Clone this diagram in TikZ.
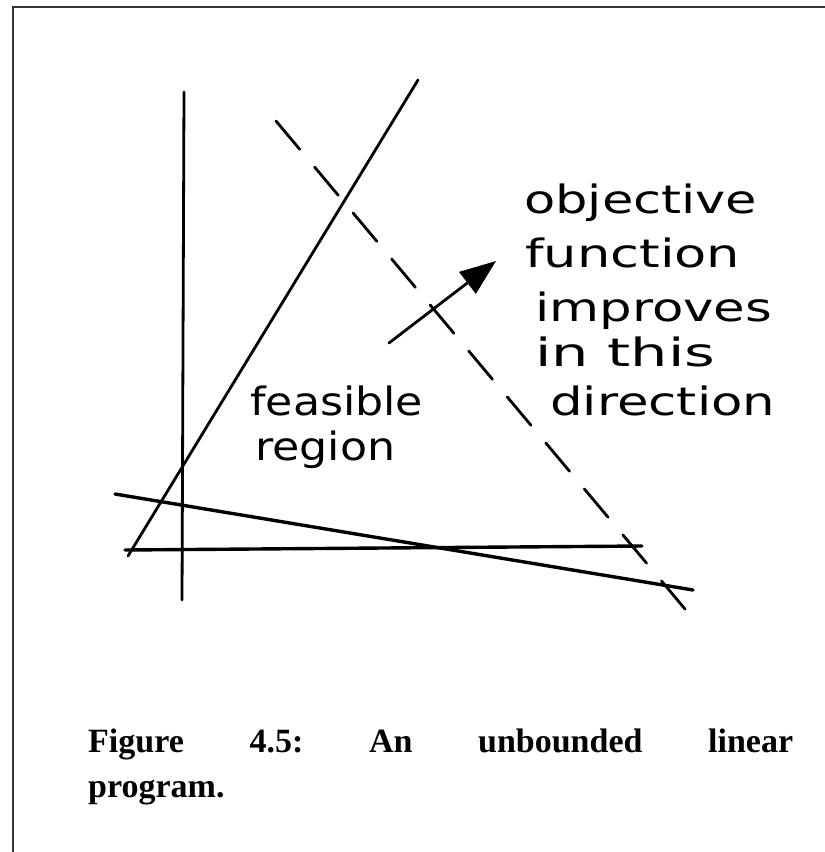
\documentclass[tikz,border=0pt]{standalone}
\usepackage{fontspec}
\usepackage{graphicx}
\usetikzlibrary{arrows.meta}
\newfontfamily\hwfont{DejaVu Sans}
\newfontfamily\capfont{Liberation Serif}
\newcommand{\hwline}[2]{\resizebox{#1pt}{\height}{#2}}
\frenchspacing
\tikzset{
  pen/.style={line width=2.8pt, line cap=round, black},
  thickpen/.style={line width=3.4pt, line cap=round, black},
  dashpen/.style={line width=2.8pt, line cap=round, black, dash pattern=on 37pt off 23pt},
  hw/.style={anchor=base west, inner sep=0pt, font=\hwfont\fontsize{39}{42}\selectfont},
  captext/.style={anchor=base west, inner sep=0pt, font=\capfont\bfseries\fontsize{34}{40}\selectfont},
  framepen/.style={line width=2.8pt, black!80},
}
\begin{document}
\begin{tikzpicture}[x=1pt,y=-1pt]
\useasboundingbox (0,0) rectangle (825,852);
\fill[white] (0,0) rectangle (825,852);
% frame
\coordinate (fTR) at (825,7);
\coordinate (fTL) at (13,7);
\coordinate (fBL) at (13,852);
\draw[framepen] (fTR) -- (fTL) -- (fBL);
% axis
\coordinate (vTop) at (184,92);
\coordinate (vBot) at (182,600);
\draw[pen] (vTop) -- (vBot);
% steep constraint
\coordinate (sTop) at (418,80);
\coordinate (sBot) at (128,556);
\draw[pen] (sTop) -- (sBot);
% horizontal constraint
\coordinate (hL) at (125,550);
\coordinate (hR) at (642,546);
\draw[thickpen] (hL) -- (hR);
% sloped constraint
\coordinate (lL) at (115,494);
\coordinate (lR) at (693,590);
\draw[thickpen] (lL) -- (lR);
% dashed objective line
\coordinate (dTop) at (276,121);
\coordinate (dBot) at (690,615);
\draw[dashpen] (dTop) -- (dBot);
% arrow
\coordinate (aS) at (389,343);
\coordinate (aE) at (496,261);
\draw[pen, -{Triangle[length=36pt,width=27pt]}] (aS) -- (aE);
% handwritten labels
\node[hw] (t1) at (524,213) {\hwline{233}{objective}};
\node[hw] (t2) at (525,267) {\hwline{215}{function}};
\node[hw] (t3) at (535,321) {\hwline{237}{improves}};
\node[hw] (t4) at (535,366) {\hwline{180}{in this}};
\node[hw] (t5) at (550,415) {\hwline{225}{direction}};
\node[hw] (f1) at (250,415) {\hwline{173}{feasible}};
\node[hw] (f2) at (255,460) {\hwline{140}{region}};
% caption
\node[captext] (c1) at (88,752) {\makebox[705pt][s]{Figure 4.5: An unbounded linear}};
\node[captext] (c2) at (88,797) {program.};
\end{tikzpicture}
\end{document}
